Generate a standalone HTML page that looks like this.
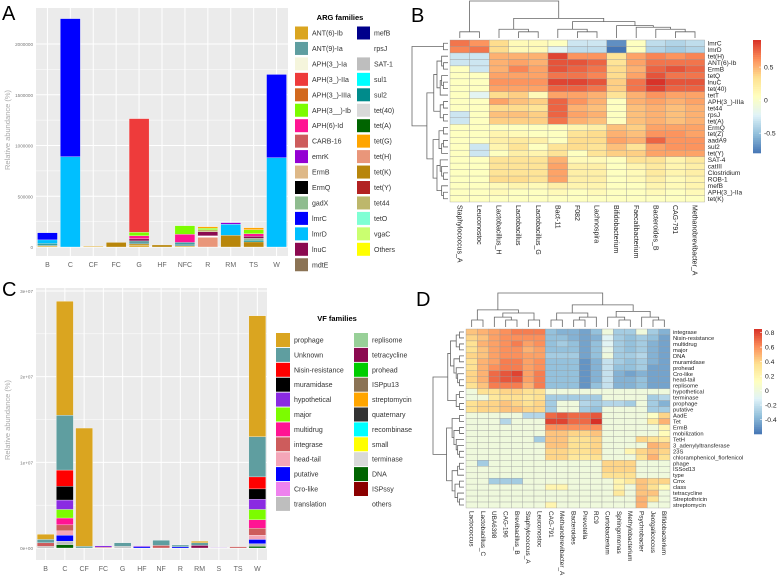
<!DOCTYPE html>
<html><head><meta charset="utf-8"><style>
body{margin:0;background:#fff;}
svg{display:block;font-family:"Liberation Sans",Arial,sans-serif;}
</style></head><body>
<svg id="fig" width="777" height="581" viewBox="0 0 777 581" xmlns="http://www.w3.org/2000/svg">
<text x="2" y="20" font-size="20">A</text>
<text x="411" y="22" font-size="20">B</text>
<text x="2" y="296" font-size="20">C</text>
<text x="416" y="306" font-size="20">D</text>
<g id="gA"></g>
<g id="gLA"></g>
<g id="gB"></g>
<g id="gC"></g>
<g id="gLC"></g>
<g id="gD"></g>
</svg>
<script>
// ---------- Panel A data ----------
const catsA = ['B','C','CF','FC','G','HF','NFC','R','RM','TS','W'];
const ticksA = [0,500000,1000000,1500000,2000000];
const tickLabelsA = ['0','500000','1000000','1500000','2000000'];
const namesA = ['ANT(6)-Ib','tet(K)','ANT(9)-Ia','sul2','gadX','tet(H)','rpsJ','lnuC','APH(6)-Id','tet44','APH(3__)-Ib','tet(G)','APH(3_)-IIa','lmrD','emrK','lmrC'];
const s_ANT6 = [10,0,8,0,15,0,10,0,0,0,0];
const s_tetK = [0,0,0,45,15,20,0,0,115,50,0];
const s_ANT9 = [10,0,0,0,30,0,20,0,0,0,0];
const s_sul2 = [15,0,0,0,0,0,15,0,0,15,0];
const s_gadX = [0,0,0,0,0,0,0,0,0,20,0];
const s_tetH = [0,0,0,0,0,0,0,95,0,0,0];
const s_rpsJ = [0,0,0,0,0,0,0,15,0,0,0];
const s_lnuC = [0,0,0,0,20,0,0,40,0,20,0];
const s_APH6 = [0,0,0,0,30,0,80,0,0,25,0];
const s_tet44 = [0,0,0,0,0,0,0,20,0,0,0];
const s_APH3Ib = [0,0,0,0,35,0,85,15,0,40,0];
const s_tetG = [0,0,0,0,0,0,0,15,0,20,0];
const s_APH3IIa = [0,0,0,0,1120,0,0,0,0,0,0];
const s_lmrD = [35,890,0,0,0,0,0,0,110,0,880];
const s_emrK = [0,0,0,0,0,0,0,0,15,0,0];
const s_lmrC = [70,1360,0,0,0,0,0,0,0,0,820];
const seriesA = [s_ANT6,s_tetK,s_ANT9,s_sul2,s_gadX,s_tetH,s_rpsJ,s_lnuC,s_APH6,s_tet44,s_APH3Ib,s_tetG,s_APH3IIa,s_lmrD,s_emrK,s_lmrC];
const unitA = 1000;

const legA1 = ['ANT(6)-Ib','ANT(9)-Ia','APH(3_)-Ia','APH(3_)-IIa','APH(3_)-IIIa','APH(3__)-Ib','APH(6)-Id','CARB-16','emrK','ErmB','ErmQ','gadX','lmrC','lmrD','lnuC','mdtE'];
const legA2 = ['mefB','rpsJ','SAT-1','sul1','sul2','tet(40)','tet(A)','tet(G)','tet(H)','tet(K)','tet(Y)','tet44','tetO','vgaC','Others'];
const colA = {'ANT(6)-Ib':'#DAA520','ANT(9)-Ia':'#5F9EA0','APH(3_)-Ia':'#F5F5DC','APH(3_)-IIa':'#EE3B3B','APH(3_)-IIIa':'#D2691E','APH(3__)-Ib':'#7CFC00','APH(6)-Id':'#FF1493','CARB-16':'#CD5C5C','emrK':'#9400D3','ErmB':'#DEB887','ErmQ':'#000000','gadX':'#8FBC8F','lmrC':'#0000FF','lmrD':'#00BFFF','lnuC':'#8B0A50','mdtE':'#8B7355','mefB':'#00008B','rpsJ':'#FFFFFF','SAT-1':'#BEBEBE','sul1':'#00FFFF','sul2':'#008B8B','tet(40)':'#D9D9D9','tet(A)':'#006400','tet(G)':'#FFA500','tet(H)':'#E9967A','tet(K)':'#B8860B','tet(Y)':'#B22222','tet44':'#BDB76B','tetO':'#7FFFD4','vgaC':'#CAFF70','Others':'#FFFF00'};

// ---------- Panel C data ----------
const catsC = ['B','C','CF','FC','G','HF','NF','R','RM','S','TS','W'];
const ticksC = [0,1e7,2e7,3e7];
const tickLabelsC = ['0e+00','1e+07','2e+07','3e+07'];
const namesC = ['DNA','tetracycline','translation','putative','head-tail','integrase','multidrug','major','hypothetical','muramidase','Nisin-resistance','Unknown','prophage'];
const v_DNA = [0,0.4,0,0,0,0,0,0,0,0,0,0.2];
const v_tetra = [0,0,0,0,0,0,0,0,0.3,0,0,0];
const v_transl = [0.2,0.4,0,0,0.2,0,0,0,0,0,0,0.3];
const v_putative = [0,0.7,0,0,0,0.15,0,0.15,0,0,0,0.5];
const v_headtail = [0,0.5,0,0,0,0,0,0,0,0,0,0.5];
const v_integrase = [0.4,0.7,0,0.1,0,0,0.3,0,0,0,0.15,0.8];
const v_multidrug = [0,0.8,0,0,0,0,0,0,0,0,0,1.0];
const v_major = [0,1.0,0,0,0,0,0,0,0,0,0,1.2];
const v_hypo = [0,1.1,0,0.15,0,0.1,0,0,0,0.05,0,1.2];
const v_muram = [0,1.6,0,0,0,0,0,0,0,0,0,1.2];
const v_nisin = [0,1.9,0,0,0,0,0,0,0,0,0,1.4];
const v_unknown = [0.4,6.4,0.2,0,0.4,0,0.6,0.2,0.3,0,0,4.7];
const v_prophage = [0.6,13.3,13.8,0,0,0,0,0,0.2,0,0,14.1];
const seriesC = [v_DNA,v_tetra,v_transl,v_putative,v_headtail,v_integrase,v_multidrug,v_major,v_hypo,v_muram,v_nisin,v_unknown,v_prophage];
const unitC = 1e6;

const legC1 = ['prophage','Unknown','Nisin-resistance','muramidase','hypothetical','major','multidrug','integrase','head-tail','putative','Cro-like','translation'];
const legC2 = ['replisome','tetracycline','prohead','ISPpu13','streptomycin','quaternary','recombinase','small','terminase','DNA','ISPssy','others'];
const colC = {'prophage':'#DAA520','Unknown':'#5F9EA0','Nisin-resistance':'#FF0000','muramidase':'#000000','hypothetical':'#8A2BE2','major':'#7CFC00','multidrug':'#FF1493','integrase':'#CD5C5C','head-tail':'#F4A6B8','putative':'#0000FF','Cro-like':'#EE82EE','translation':'#BEBEBE','replisome':'#98D098','tetracycline':'#8B0A50','prohead':'#00CD00','ISPpu13':'#8B7355','streptomycin':'#FFA500','quaternary':'#333333','recombinase':'#00FFFF','small':'#FFFF00','terminase':'#D9D9D9','DNA':'#006400','ISPssy':'#8B0000','others':'#FFFFFF'};

// ---------- Panel B data ----------
const colsB = ['Staphylococcus_A','Leuconostoc','Lactobacillus_H','Lactobacillus','Lactobacillus_G','Bact-11','F082','Lachnospira','Bifidobacterium','Faecalibacterium','Bacteroides_B','CAG-791','Methanobrevibacter_A'];
const rowsB = ['lmrC','lmrD','tet(H)','ANT(6)-Ib','ErmB','tetQ','lnuC','tet(40)','tetT','APH(3_)-IIIa','tet44','rpsJ','tet(A)','ErmQ','tet(Z)','aadA9','sul2','tet(Y)','SAT-4','catIII','Clostridium','ROB-1','mefB','APH(3_)-IIa','tet(K)'];
const valsB = [
[.7,.6,.35,.1,.1,.05,-.3,-.3,-.7,.05,-.35,-.4,-.35],
[.65,.7,.35,.1,.1,-.2,-.35,-.35,-.8,.05,-.4,-.45,-.4],
[-.3,-.3,.5,.5,.5,.85,.6,.6,.3,.55,.65,.6,.65],
[-.3,-.3,.5,.55,.5,.8,.8,.75,.3,.55,.7,.7,.7],
[.05,-.3,.5,.65,.55,.8,.75,.7,.35,.5,.75,.8,.75],
[.05,.05,.55,.55,.55,.7,.7,.65,.35,.55,.8,.7,.7],
[.05,.05,.6,.6,.6,.85,.85,.8,.4,.7,.9,.8,.8],
[.05,.05,.55,.55,.55,.75,.75,.7,.4,.7,.85,.75,.75],
[.05,-.2,.35,.4,.1,.55,.55,.5,.3,.5,.6,.55,.55],
[.05,.05,.55,.45,.4,.75,.6,.5,.05,.5,.55,.5,.55],
[.05,.05,.35,.35,.3,.75,.5,.45,.05,.45,.5,.45,.5],
[-.3,.05,.45,.45,.4,.75,.55,.5,.05,.45,.5,.45,.5],
[-.3,.05,.4,.4,.4,.7,.5,.45,.05,.45,.5,.45,.5],
[.05,.05,.05,.05,.05,.05,.15,.2,.45,.4,.55,.55,.55],
[.05,.05,.15,.1,.05,.05,.3,.35,.5,.45,.6,.6,.55],
[.05,.05,.2,.25,.2,.05,.35,.35,.55,.5,.75,.6,.6],
[.05,-.3,.15,.3,.05,.3,.35,.3,.45,.3,.55,.6,.6],
[.05,-.3,.05,.2,.15,.3,.05,.3,.4,.4,.55,.55,.55],
[.05,.05,.3,.3,.3,.5,.1,.1,.05,.3,.3,.15,.25],
[.05,.05,.3,.3,.3,.55,.2,.2,.05,.15,.25,.15,.2],
[.05,.05,.3,.3,.3,.55,.2,.2,.05,.1,.25,.15,.2],
[.05,.05,.35,.35,.3,.55,.2,.2,.05,.1,.2,.1,.15],
[.05,.05,.1,.15,.1,.2,.15,.15,.05,.05,.15,.1,.15],
[.05,.05,.1,.05,.05,.1,.05,.1,.05,.05,.1,.05,.1],
[.05,.05,.05,.05,.05,.05,.05,.05,.05,.05,.05,.05,.05]];
const legendTicksB = [0.5,0,-0.5];
const rangeB = [-0.8,0.91];

// ---------- Panel D data ----------
const colsD = ['Lactococcus','Lactobacillus_C','UBA6398','CAG-196','Brevibacillus_B','Staphylococcus_A','Leuconostoc','CAG-791','Methanobrevibacter_A','Bacteroides','Prevotella','RC9','Curtobacterium','Sphingomonas','Methylobacterium','Psychrobacter','Jeotgalicoccus','Bifidobacterium'];
const rowsD = ['integrase','Nisin-resistance','multidrug','major','DNA','muramidase','prohead','Cro-like','head-tail','replisome','hypothetical','terminase','prophage','putative','AadE','Tet','ErmB','mobilization','TetH','3_adenylyltransferase','23S','chloramphenicol_florfenicol','phage','ISSod13','type','Cmx','class','tetracycline','Streptothricin','streptomycin'];
const valsD = [
[.45,.5,.55,.6,.65,.65,.65,-.35,-.4,-.4,-.45,-.35,0,-.3,-.3,0,-.3,-.4],
[.4,.45,.55,.6,.6,.6,.6,-.35,-.35,-.4,-.45,-.4,-.1,-.3,-.35,-.3,-.35,-.45],
[.35,.5,.55,.6,.65,.55,.6,-.35,-.3,-.35,-.45,-.35,-.1,-.3,-.35,-.3,-.4,-.45],
[.35,.45,.55,.6,.6,.5,.55,-.35,-.35,-.35,-.45,-.35,-.05,-.3,-.35,-.3,-.4,-.45],
[.4,.45,.55,.6,.6,.55,.55,-.3,-.3,-.3,-.45,-.35,0,-.3,-.3,-.25,-.4,-.45],
[.35,.5,.55,.65,.65,.55,.6,-.35,-.35,-.35,-.5,-.4,-.2,-.3,-.35,-.3,-.4,-.45],
[.35,.5,.6,.65,.65,.55,.6,-.35,-.35,-.35,-.5,-.4,-.2,-.35,-.35,-.3,-.45,-.45],
[.4,.5,.7,.75,.8,.55,.65,-.35,-.35,-.35,-.5,-.4,-.2,-.4,-.45,-.4,-.45,-.45],
[.4,.5,.7,.75,.75,.55,.65,-.35,-.35,-.35,-.5,-.4,-.2,-.4,-.4,-.35,-.45,-.45],
[.35,.45,.65,.65,.65,.5,.65,-.35,-.35,-.35,-.5,-.35,-.2,-.4,-.4,-.35,-.45,-.45],
[0,.35,.35,.4,.4,.35,.35,0,0,0,0,0,0,0,0,0,0,0],
[0,0,.3,.35,.35,.3,.35,-.3,-.3,-.3,-.3,-.3,0,0,0,0,-.3,-.25],
[.35,.4,.4,.45,.4,.35,.4,-.3,0,0,-.25,-.3,-.25,-.25,-.3,0,-.3,-.4],
[.35,.4,.4,.45,.45,.4,.4,-.3,0,0,-.3,-.35,0,0,0,0,-.3,-.3],
[0,0,0,0,0,-.25,-.25,.7,.75,.7,.7,.75,0,0,0,0,.1,.4],
[0,0,0,-.25,0,0,0,.8,.8,.7,.7,.85,0,0,0,0,.3,.5],
[0,0,0,0,0,0,0,.6,.6,.6,.6,.6,0,0,0,0,0,.2],
[0,0,0,0,0,0,0,.45,.45,.4,.4,.45,0,0,0,0,0,.15],
[0,0,0,0,0,0,-.3,.45,.45,.35,.35,.4,0,0,0,.4,.35,.3],
[0,0,0,0,0,0,0,.45,.45,.35,.35,.4,0,0,0,0,.5,.45],
[0,0,0,0,0,0,0,.4,.4,.35,.35,.4,0,0,.2,.4,.45,.4],
[0,0,0,0,0,0,0,.4,.4,.3,.3,.35,0,0,0,.35,.5,.35],
[0,-.3,0,0,0,0,0,0,0,0,0,0,.4,.4,.4,0,0,0],
[0,0,0,0,0,0,0,0,0,0,0,0,.4,.4,.4,0,0,0],
[0,0,0,0,0,0,0,0,0,0,0,0,.35,.35,.35,0,0,0],
[0,0,-.3,-.3,-.3,0,0,0,0,0,0,0,0,.2,.3,.45,.4,.4],
[0,0,0,0,0,0,0,.2,.2,0,0,0,0,.2,0,.45,.35,.15],
[0,0,0,0,0,0,0,0,0,0,0,0,0,.3,0,.45,.45,0],
[0,0,0,0,0,0,0,0,0,0,0,0,0,0,0,.5,.35,0],
[0,0,0,0,0,0,0,.2,0,0,0,0,0,0,0,.5,0,0]];
const legendTicksD = [0.8,0.6,0.4,0.2,0,-0.2,-0.4];
const rangeD = [-0.6,0.85];

// ---------- helpers ----------
const NS='http://www.w3.org/2000/svg';
function mk(parent,tag,attrs,txt){const e=document.createElementNS(NS,tag);for(const k in attrs)e.setAttribute(k,attrs[k]);if(txt!==undefined)e.textContent=txt;parent.appendChild(e);return e;}
const pal=['#4575B4','#91BFDB','#E0F3F8','#FFFFBF','#FEE090','#FC8D59','#D73027'];
function hex2(c){return [1,3,5].map(i=>parseInt(c.substr(i,2),16));}
function cmap(v,rng){let t=(v-rng[0])/(rng[1]-rng[0]);t=Math.max(0,Math.min(1,t))*(pal.length-1);const i=Math.min(pal.length-2,Math.floor(t));const f=t-i;const a=hex2(pal[i]),b=hex2(pal[i+1]);return 'rgb('+a.map((x,k)=>Math.round(x+(b[k]-x)*f)).join(',')+')';}

function barChart(g,o){
  const {cats,series,names,unit,cols,ticks,labels,x0,x1,yTop,yBase,yMaxVal,barW,plotTop,plotBot,prefix}=o;
  mk(g,'rect',{x:x0,y:plotTop,width:x1-x0,height:plotBot-plotTop,fill:'#EBEBEB'});
  const y=v=>yBase-(v/yMaxVal)*(yBase-yTop);
  const step=(x1-x0)/cats.length;
  const xc=i=>x0+step*(i+0.5);
  for(let k=0;k<ticks.length;k++){
    if(k<ticks.length-1) mk(g,'line',{x1:x0,x2:x1,y1:(y(ticks[k])+y(ticks[k+1]))/2,y2:(y(ticks[k])+y(ticks[k+1]))/2,stroke:'#fff','stroke-width':0.5});
    mk(g,'line',{x1:x0,x2:x1,y1:y(ticks[k]),y2:y(ticks[k]),stroke:'#fff','stroke-width':1});
    const t=mk(g,'text',{x:x0-3,y:y(ticks[k])+2,'font-size':4.6,fill:'#777','text-anchor':'end'},labels[k]);
    
    
  }
  cats.forEach((c,i)=>{
    mk(g,'line',{x1:xc(i),x2:xc(i),y1:plotTop,y2:plotBot,stroke:'#fff','stroke-width':1});
    const t=mk(g,'text',{x:xc(i),y:plotBot+11,'font-size':7,fill:'#666','text-anchor':'middle'},c);
    
    
    let acc=0;
    series.forEach((s,si)=>{
      const v=s[i]*unit; if(v<=0)return;
      const r=mk(g,'rect',{x:xc(i)-barW/2,y:y(acc+v),width:barW,height:y(acc)-y(acc+v),fill:cols[names[si]],stroke:'#fff','stroke-width':0.3});
      
      
      acc+=v;
    });
  });
}
function legend(g,o){
  const {title,tx,ty,c1,c2,cols,sx1,sx2,y0,step,sw,sh}=o;
  const t=mk(g,'text',{x:tx,y:ty,'font-size':7.5,'font-weight':'bold','text-anchor':'middle'},title);
  
  
  [[c1,sx1],[c2,sx2]].forEach(([list,sx])=>{
    list.forEach((n,i)=>{
      const cy=y0+i*step;
      const r=mk(g,'rect',{x:sx,y:cy-sh/2,width:sw,height:sh,fill:cols[n]});
      
      
      const tt=mk(g,'text',{x:sx+sw+4,y:cy+2.5,'font-size':7,fill:'#333'},n);
      
      
    });
  });
}
function dendro(g,tree,posFn,hFn,vertical,rootH){
  function count(t){return Array.isArray(t)?count(t[0])+count(t[1]):1;}
  function draw(t,isRoot){
    if(!Array.isArray(t))return [posFn(t),hFn(1)];
    const a=draw(t[0]),b=draw(t[1]);
    const h=isRoot&&rootH!==undefined?rootH:hFn(count(t));
    const d=vertical?`M${a[0]},${a[1]}V${h}H${b[0]}V${b[1]}`:`M${a[1]},${a[0]}H${h}V${b[0]}H${b[1]}`;
    mk(g,'path',{d:d,fill:'none',stroke:'#666','stroke-width':0.8});
    return [(a[0]+b[0])/2,h];
  }
  draw(tree,true);
}
function heatmap(g,o){
  const {rows,cols,vals,rng,x0,y0,cw,ch,ticks,cbx,cby0,cby1,fs,lfs}=o;
  vals.forEach((row,r)=>row.forEach((v,c)=>{
    const e=mk(g,'rect',{x:x0+c*cw,y:y0+r*ch,width:cw,height:ch,fill:cmap(v,rng),stroke:'#999','stroke-width':0.35});
    
    
  }));
  rows.forEach((n,r)=>{
    const t=mk(g,'text',{x:x0+cols.length*cw+3,y:y0+(r+0.5)*ch+fs*0.35,'font-size':fs,fill:'#222'},n);
    
    
  });
  cols.forEach((n,c)=>{
    const cx=x0+(c+0.5)*cw, cy=y0+rows.length*ch+3;
    const t=mk(g,'text',{x:cx,y:cy,'font-size':lfs,fill:'#222',transform:`rotate(90 ${cx} ${cy})`,dy:lfs*0.35},n);
    
    
  });
  const N=60;
  for(let i=0;i<N;i++){
    const v=rng[1]-(rng[1]-rng[0])*(i+0.5)/N;
    mk(g,'rect',{x:cbx,y:cby0+(cby1-cby0)*i/N,width:8,height:(cby1-cby0)/N+0.3,fill:cmap(v,rng)});
  }
  ticks.forEach(v=>{
    const yy=cby0+(rng[1]-v)/(rng[1]-rng[0])*(cby1-cby0);
    mk(g,'line',{x1:cbx+6,x2:cbx+8,y1:yy,y2:yy,stroke:'#fff','stroke-width':0.6});
    const t=mk(g,'text',{x:cbx+11,y:yy+2.5,'font-size':6.8,fill:'#222'},String(v));
    
    
  });
}

// ---------- draw A ----------
const gA=document.getElementById('gA');
barChart(gA,{cats:catsA,series:seriesA,names:namesA,unit:unitA,cols:colA,ticks:ticksA,labels:tickLabelsA,x0:36,x1:288,yTop:44,yBase:247,yMaxVal:2000000,barW:20,plotTop:8,plotBot:256,prefix:'arg'});
mk(gA,'text',{x:10,y:130,'font-size':7.5,fill:'#aaa','text-anchor':'middle',transform:'rotate(-90 10 130)'},'Relative abundance (%)');
legend(document.getElementById('gLA'),{title:'ARG families',tx:340,ty:20,c1:legA1,c2:legA2,cols:colA,sx1:295,sx2:357,y0:33,step:15.45,sw:13,sh:13});

// ---------- draw C ----------
const gC=document.getElementById('gC');
barChart(gC,{cats:catsC,series:seriesC,names:namesC,unit:unitC,cols:colC,ticks:ticksC,labels:tickLabelsC,x0:36,x1:267,yTop:291,yBase:548,yMaxVal:3e7,barW:17,plotTop:288,plotBot:560,prefix:'vf'});
mk(gC,'text',{x:10,y:420,'font-size':7.5,fill:'#aaa','text-anchor':'middle',transform:'rotate(-90 10 420)'},'Relative abundance (%)');
legend(document.getElementById('gLC'),{title:'VF families',tx:337,ty:321,c1:legC1,c2:legC2,cols:colC,sx1:276,sx2:354,y0:340,step:14.9,sw:14,sh:14});

// ---------- draw B ----------
const gB=document.getElementById('gB');
const bx0=450,by0=40,bcw=19.6,bch=162/25;
heatmap(gB,{rows:rowsB,cols:colsB,vals:valsB,rng:rangeB,x0:bx0,y0:by0,cw:bcw,ch:bch,ticks:legendTicksB,cbx:753,cby0:40,cby1:153,fs:6.5,lfs:7});
dendro(gB,[[0,1],[[2,[3,4]],[[5,[6,7]],[8,[9,[10,[11,12]]]]]]],i=>bx0+(i+0.5)*bcw,n=>38-Math.sqrt(n-1)*6.2,true,1);
dendro(gB,[[0,1],[[[[2,[3,4]],[[5,[6,7]],8]],[[9,10],[11,12]]],[[[13,14],[[15,16],17]],[[18,[19,[20,21]]],[22,[23,24]]]]]],i=>by0+(i+0.5)*bch,n=>448-Math.sqrt(n-1)*4.5,false,412);

// ---------- draw D ----------
const gD=document.getElementById('gD');
const dx0=466,dy0=329,dcw=204/18,dch=179/30;
heatmap(gD,{rows:rowsD,cols:colsD,vals:valsD,rng:rangeD,x0:dx0,y0:dy0,cw:dcw,ch:dch,ticks:legendTicksD,cbx:754,cby0:329,cby1:434,fs:5.8,lfs:6.4});
dendro(gD,[[[0,1],[[2,[3,4]],[5,6]]],[[[7,8],[[9,10],11]],[[12,[13,14]],[15,[16,17]]]]],i=>dx0+(i+0.5)*dcw,n=>327-Math.sqrt(n-1)*7,true,293);
dendro(gD,[[[[[0,1],[2,3]],[[4,5],[6,[7,[8,9]]]]],[[10,11],[12,13]]],[[[14,15],[[16,17],[18,[19,[20,21]]]]],[[[22,23],24],[[25,26],[27,[28,29]]]]]],i=>dy0+(i+0.5)*dch,n=>464-Math.sqrt(n-1)*4.5,false,433);
</script>
</body></html>
